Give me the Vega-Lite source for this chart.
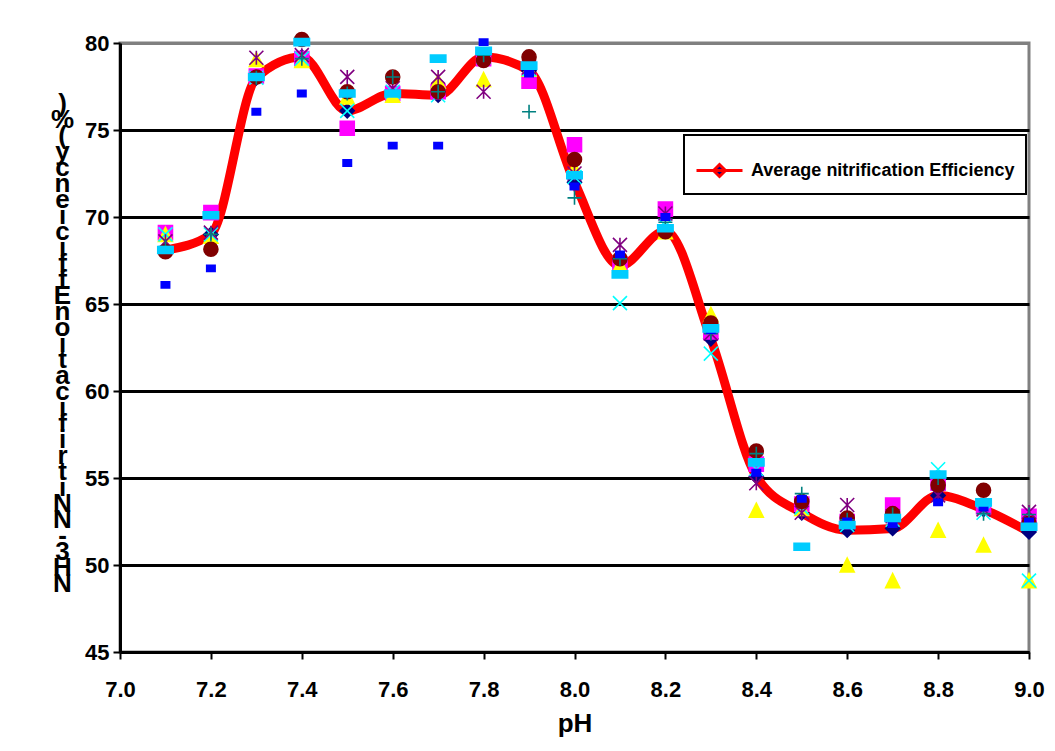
{
  "$schema": "https://vega.github.io/schema/vega-lite/v6.json",
  "autosize": {"type": "none"},
  "padding": {"left": 120, "top": 43, "right": 26, "bottom": 99},
  "width": 909,
  "height": 609,
  "background": "white",
  "config": {
    "view": {"stroke": "#808080", "strokeWidth": 3},
    "font": "Liberation Sans"
  },
  "data": {
    "values": [
      {"pH": 7.1, "avg": 68.1, "sq": 69.1, "tri": 69.0, "x": 69.0, "star": 68.6, "circ": 68.0, "plus": 68.3, "dash": 66.1, "ldash": 68.1},
      {"pH": 7.2, "avg": 69.0, "sq": 70.25, "tri": 68.9, "x": 69.0, "star": 69.1, "circ": 68.15, "plus": 69.0, "dash": 67.05, "ldash": 70.1},
      {"pH": 7.3, "avg": 78.0, "sq": 78.1, "tri": 79.05, "x": 78.0, "star": 79.15, "circ": 78.05, "plus": 78.0, "dash": 76.05, "ldash": 78.05},
      {"pH": 7.4, "avg": 79.2, "sq": 79.1, "tri": 79.0, "x": 79.1, "star": 79.3, "circ": 80.2, "plus": 79.1, "dash": 77.1, "ldash": 80.05},
      {"pH": 7.5, "avg": 76.1, "sq": 75.1, "tri": 76.9, "x": 76.1, "star": 78.05, "circ": 77.2, "plus": 77.1, "dash": 73.1, "ldash": 77.1},
      {"pH": 7.6, "avg": 77.1, "sq": 77.1, "tri": 77.0, "x": 77.2, "star": 77.4, "circ": 78.05, "plus": 78.05, "dash": 74.1, "ldash": 77.1},
      {"pH": 7.7, "avg": 77.0, "sq": 77.2, "tri": 77.8, "x": 77.0, "star": 78.05, "circ": 77.2, "plus": 77.2, "dash": 74.1, "ldash": 79.1},
      {"pH": 7.8, "avg": 79.2, "sq": 79.1, "tri": 77.9, "x": 79.2, "star": 77.2, "circ": 79.0, "plus": 79.3, "dash": 80.05, "ldash": 79.55},
      {"pH": 7.9, "avg": 78.4, "sq": 77.8, "tri": 78.5, "x": 78.5, "star": 78.6, "circ": 79.2, "plus": 76.05, "dash": 78.25, "ldash": 78.7},
      {"pH": 8.0, "avg": 72.0, "sq": 74.15, "tri": 72.8, "x": 72.3, "star": 72.5, "circ": 73.3, "plus": 71.1, "dash": 71.75, "ldash": 72.4},
      {"pH": 8.1, "avg": 67.2, "sq": 67.3, "tri": 67.25, "x": 65.05, "star": 68.4, "circ": 67.6, "plus": 67.6, "dash": 67.85, "ldash": 66.7},
      {"pH": 8.2, "avg": 69.2, "sq": 70.45, "tri": 69.15, "x": 69.5, "star": 70.2, "circ": 69.15, "plus": 69.7, "dash": 70.0, "ldash": 69.35},
      {"pH": 8.3, "avg": 63.0, "sq": 63.4, "tri": 64.4, "x": 62.15, "star": 63.3, "circ": 63.9, "plus": 63.3, "dash": 63.5, "ldash": 63.6},
      {"pH": 8.4, "avg": 55.1, "sq": 55.8, "tri": 53.15, "x": 55.5, "star": 54.7, "circ": 56.55, "plus": 56.4, "dash": 55.3, "ldash": 55.9},
      {"pH": 8.5, "avg": 53.0, "sq": 53.5, "tri": 53.25, "x": 53.3, "star": 53.0, "circ": 53.65, "plus": 54.1, "dash": 53.8, "ldash": 51.05},
      {"pH": 8.6, "avg": 52.0, "sq": 52.5, "tri": 50.0, "x": 52.3, "star": 53.45, "circ": 52.7, "plus": 52.6, "dash": 52.5, "ldash": 52.3},
      {"pH": 8.7, "avg": 52.1, "sq": 53.45, "tri": 49.1, "x": 52.6, "star": 52.8, "circ": 52.95, "plus": 52.9, "dash": 52.35, "ldash": 52.7},
      {"pH": 8.8, "avg": 54.0, "sq": 54.7, "tri": 52.0, "x": 55.5, "star": 54.0, "circ": 54.6, "plus": 55.0, "dash": 53.6, "ldash": 55.2},
      {"pH": 8.9, "avg": 53.2, "sq": 53.35, "tri": 51.15, "x": 53.0, "star": 53.2, "circ": 54.3, "plus": 52.95, "dash": 53.3, "ldash": 53.6},
      {"pH": 9.0, "avg": 51.9, "sq": 52.8, "tri": 49.1, "x": 49.1, "star": 53.05, "circ": 52.4, "plus": 52.9, "dash": 52.5, "ldash": 52.2}
    ]
  },
  "transform": [
    {"fold": ["avg", "sq", "tri", "x", "star", "circ", "plus", "dash", "ldash"], "as": ["series", "value"]}
  ],
  "encoding": {
    "x": {
      "field": "pH", "type": "quantitative",
      "scale": {"domain": [7, 9], "nice": false, "zero": false},
      "axis": {
        "values": [7.0, 7.2, 7.4, 7.6, 7.8, 8.0, 8.2, 8.4, 8.6, 8.8, 9.0],
        "format": ".1f",
        "grid": false,
        "domainColor": "black", "domainWidth": 3,
        "tickColor": "black", "tickWidth": 2, "tickSize": 7,
        "labelFont": "Liberation Sans", "labelFontWeight": "bold", "labelFontSize": 22, "labelColor": "black",
        "labelPadding": 20, "labelFlush": false, "labelOverlap": false,
        "title": "pH",
        "titleFont": "Liberation Sans", "titleFontWeight": "bold", "titleFontSize": 26, "titleColor": "black",
        "titlePadding": 10
      }
    },
    "y": {
      "field": "value", "type": "quantitative",
      "scale": {"domain": [45, 80], "nice": false, "zero": false},
      "axis": {
        "values": [45, 50, 55, 60, 65, 70, 75, 80],
        "grid": true,
        "gridColor": {"condition": {"test": "datum.value == 80", "value": "#808080"}, "value": "black"},
        "gridWidth": 3,
        "domainColor": "black", "domainWidth": 3,
        "tickColor": "black", "tickWidth": 2, "tickSize": 7,
        "labelFont": "Liberation Sans", "labelFontWeight": "bold", "labelFontSize": 22, "labelColor": "black",
        "labelPadding": 4,
        "title": [")", "%", "(", " ", "y", "c", "n", "e", "i", "c", "i", "f", "f", "E", " ", "n", "o", "i", "t", "a", "c", "i", "f", "i", "r", "t", "i", "N", " ", "N", "-", "3", "H", "N"],
        "titleAngle": 0,
        "titleX": -58, "titleY": 47,
        "titleAlign": "center", "titleBaseline": "top",
        "titleFont": "Liberation Sans", "titleFontWeight": "bold", "titleFontSize": 26, "titleColor": "black",
        "titleLineHeight": 16
      }
    }
  },
  "layer": [
    {
      "transform": [{"filter": {"field": "series", "equal": "avg"}}],
      "mark": {"type": "line", "interpolate": "monotone", "strokeWidth": 9, "strokeCap": "round", "strokeJoin": "round"},
      "encoding": {
        "color": {
          "field": "series", "type": "nominal",
          "scale": {"domain": ["avg"], "range": ["#FF0000"]},
          "legend": {
            "orient": "none", "legendX": 564, "legendY": 92,
            "title": null,
            "labelExpr": "'Average nitrification Efficiency'",
            "labelFont": "Liberation Sans", "labelFontWeight": "bold", "labelFontSize": 18, "labelColor": "black",
            "labelLimit": 400, "labelOffset": 7,
            "symbolType": "M-1,0H1M-0.26,0L0,-0.26L0.26,0L0,0.26Z",
            "symbolSize": 2116,
            "symbolStrokeWidth": 3,
            "padding": 11,
            "fillColor": "white",
            "strokeColor": "black",
            "encode": {
              "symbols": {"update": {"fill": {"value": "#000080"}, "stroke": {"value": "#FF0000"}}},
              "legend": {"update": {"strokeWidth": {"value": 2}}}
            }
          }
        }
      }
    },
    {
      "mark": {"type": "point", "filled": true, "opacity": 1, "size": 196, "strokeWidth": 1.6},
      "encoding": {
        "shape": {
          "field": "series", "type": "nominal", "legend": null,
          "scale": {
            "domain": ["avg", "sq", "tri", "x", "star", "circ", "plus", "dash", "ldash"],
            "range": [
              "M0,-1L1,0L0,1L-1,0Z",
              "M-1,-1H1V1H-1Z",
              "M0,-1L1,1H-1Z",
              "M-1,-1L1,1M-1,1L1,-1",
              "M-1,-1L1,1M-1,1L1,-1M0,-1L0,1",
              "circle",
              "M-1,0H1M0,-1V1",
              "M-0.6,-0.45H0.6V0.45H-0.6Z",
              "M-1.1,-0.5H1.1V0.5H-1.1Z"
            ]
          }
        },
        "fill": {
          "field": "series", "type": "nominal", "legend": null,
          "scale": {
            "domain": ["avg", "sq", "tri", "x", "star", "circ", "plus", "dash", "ldash"],
            "range": ["#000080", "#FF00FF", "#FFFF00", "#00FFFF", "#800080", "#800000", "#008080", "#0000FF", "#00CCFF"]
          }
        },
        "stroke": {
          "field": "series", "type": "nominal", "legend": null,
          "scale": {
            "domain": ["avg", "sq", "tri", "x", "star", "circ", "plus", "dash", "ldash"],
            "range": ["#000080", "#FF00FF", "#FFFF00", "#00FFFF", "#800080", "#800000", "#008080", "#0000FF", "#00CCFF"]
          }
        }
      }
    }
  ]
}
